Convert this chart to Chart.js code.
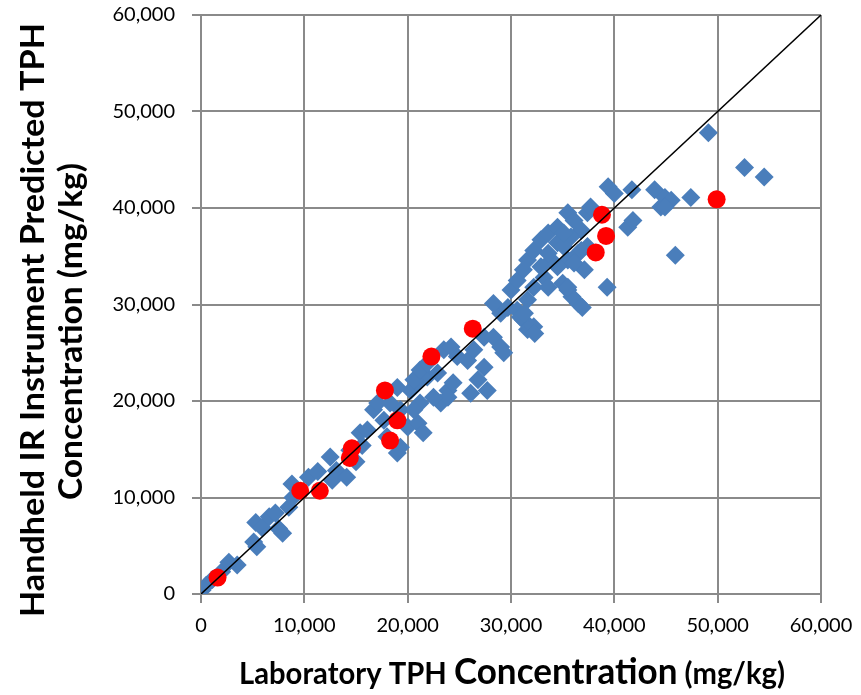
<!DOCTYPE html>
<html>
<head>
<meta charset="utf-8">
<title>Laboratory vs handheld IR TPH</title>
<script src="https://cdn.jsdelivr.net/npm/chart.js@4.4.0/dist/chart.umd.min.js"></script>
<style>
  body { margin: 0; background: #fff; }
  #wrap { width: 861px; height: 695px; }
</style>
</head>
<body>
<div id="wrap"><canvas id="chart"></canvas></div>
<script>
// valores (mg/kg)
const labX = [
  100, 500, 1100, 2000, 2700, 3500, 5100, 5400, 5300, 5900,
  6600, 7200, 7500, 7900, 8500, 8900, 8800, 10400, 11300, 12700,
  12500, 13100, 14100, 14400, 15400, 16100, 16700, 17100, 17700, 18000,
  19000, 19300, 20000, 21000, 21500, 19300, 20300, 21000, 21900, 23200,
  23900, 19000, 18300, 15600, 15000,
  20600, 21200, 21900, 23500, 24200, 24800, 25800, 26400, 27400, 28300,
  29000, 29300, 27400, 26800, 27700, 26100, 23900, 22500, 24400, 22900,
  21200, 20600, 29000, 29700, 31200, 31600,
  28300, 30000, 30600, 31200, 31600, 32200, 32900, 33600, 34500, 35500,
  36100, 37400, 37700, 36800, 35800, 36500, 37400, 37100, 35500, 34500,
  33900, 33200, 32200, 31600, 30600, 30900, 32200, 35500, 36500, 39300,
  41300, 41800, 44500, 33600, 34500, 35100, 36100, 32900,
  32300, 35000, 35900, 36900, 33600, 31300,
  49100, 52600, 54500, 39400, 40000, 41700, 43900, 44900, 45500, 44900,
  47400, 45900, 35100, 36800, 35500
];
const predY = [
  400, 900, 1500, 2300, 3300, 3000, 5400, 4900, 7400, 6900,
  8000, 8400, 6800, 6300, 9000, 10000, 11400, 12100, 12700, 11800,
  14200, 12800, 12100, 14900, 16700, 17000, 19100, 19800, 18000, 16300,
  14600, 15200, 17300, 17700, 16700, 19100, 21100, 21900, 22500, 19800,
  21100, 21400, 19800, 15400, 13700,
  22200, 23200, 23900, 25300, 25600, 24600, 24200, 25300, 26600, 26600,
  25600, 25000, 23500, 22200, 21100, 20800, 20400, 20400, 21900, 22900,
  19800, 19100, 29100, 29700, 28400, 27400,
  30100, 31500, 32500, 33600, 34600, 35600, 36700, 37400, 38000, 39500,
  38700, 39500, 40100, 37700, 37000, 35300, 36000, 33600, 34600, 33900,
  34600, 32800, 31800, 30500, 29400, 28700, 27700, 31500, 30100, 31800,
  38000, 38700, 40100, 35300, 36400, 36000, 34300, 33900,
  27000, 32200, 30800, 29700, 31800, 29100,
  47800, 44200, 43200, 42200, 41500, 41900, 41900, 41100, 40800, 40100,
  41100, 35100, 37400, 35600, 31800
];
const checkX = [1600, 9600, 11500, 14600, 14400, 17800, 18300, 19000, 22300, 26300, 38200, 38800, 39200, 49900];
const checkY = [1700, 10700, 10700, 15100, 14100, 21100, 15900, 18000, 24600, 27500, 35400, 39300, 37100, 40900];
const lineX = [0, 60000];
const lineY = [0, 60000];
const tickValues = [0, 10000, 20000, 30000, 40000, 50000, 60000];
const tickLabels = ['0', '10,000', '20,000', '30,000', '40,000', '50,000', '60,000'];

const gridGray = '#8a8a8a';
const font = 'Lato';

function pts(xs, ys) {
  return xs.map((x, i) => ({ x: x, y: ys[i] }));
}

// desenha texto comprimido para caber numa largura
function drawFitted(ctx, parts, left, base, targetW) {
  let w = 0;
  parts.forEach(p => { ctx.font = 'bold ' + p[1] + 'px ' + font; w += ctx.measureText(p[0]).width; });
  ctx.save();
  ctx.translate(left, base);
  ctx.scale(targetW / w, 1);
  let cx = 0;
  parts.forEach(p => {
    ctx.font = 'bold ' + p[1] + 'px ' + font;
    ctx.fillText(p[0], cx, 0);
    cx += ctx.measureText(p[0]).width;
  });
  ctx.restore();
}

const titles = {
  id: 'titles',
  afterDraw(chart) {
    const ctx = chart.ctx;
    ctx.save();
    ctx.fillStyle = '#000';
    ctx.textBaseline = 'alphabetic';
    ctx.textAlign = 'left';
    // eixo x
    drawFitted(ctx, [['Laboratory TPH ', 30], ['Concentration', 36], [' (mg/kg)', 30]], 239, 684, 546);
    // eixo y, duas linhas
    ctx.save();
    ctx.translate(44, 320);
    ctx.rotate(-Math.PI / 2);
    drawFitted(ctx, [['Handheld IR Instrument Predicted TPH', 33]], -297, 0, 594);
    ctx.restore();
    ctx.save();
    ctx.translate(82, 332);
    ctx.rotate(-Math.PI / 2);
    drawFitted(ctx, [['Concentration (mg/kg)', 33]], -168, 0, 337);
    ctx.restore();
    ctx.restore();
  }
};

function axis(isX) {
  return {
    type: 'linear',
    min: 0,
    max: 60000,
    afterBuildTicks: s => { s.ticks = tickValues.map(v => ({ value: v })); },
    afterFit: s => {
      // tamanhos fixos para a área do gráfico
      if (isX) { s.height = 101; s.paddingLeft = 0; s.paddingRight = 0; }
      else { s.width = 201; s.paddingTop = 0; s.paddingBottom = 0; }
    },
    grid: { color: gridGray, lineWidth: 2, tickLength: 9, tickColor: gridGray },
    border: { color: gridGray, width: 2 },
    ticks: {
      color: '#000',
      font: { family: font, size: 20 },
      padding: isX ? 11 : 17,
      maxRotation: 0,
      callback: v => tickLabels[tickValues.indexOf(v)]
    },
    title: { display: false }
  };
}

new Chart(document.getElementById('chart'), {
  type: 'scatter',
  data: {
    datasets: [
      {
        label: '1:1',
        data: pts(lineX, lineY),
        showLine: true,
        borderColor: '#000',
        borderWidth: 1.5,
        pointRadius: 0,
        order: 0
      },
      {
        label: 'Check samples',
        data: pts(checkX, checkY),
        pointStyle: 'circle',
        pointRadius: 9,
        backgroundColor: '#ff0000',
        borderWidth: 0,
        order: 1
      },
      {
        label: 'Samples',
        data: pts(labX, predY),
        pointStyle: 'rectRot',
        pointRadius: 9.5,
        backgroundColor: '#4a7ebb',
        borderColor: '#4a7ebb',
        borderWidth: 0,
        order: 2
      }
    ]
  },
  options: {
    responsive: true,
    maintainAspectRatio: false,
    animation: false,
    layout: { padding: { left: 0, top: 15, right: 40, bottom: 0 } },
    plugins: { legend: { display: false }, tooltip: { enabled: false } },
    scales: { x: axis(true), y: axis(false) }
  },
  plugins: [titles]
});
</script>
</body>
</html>
